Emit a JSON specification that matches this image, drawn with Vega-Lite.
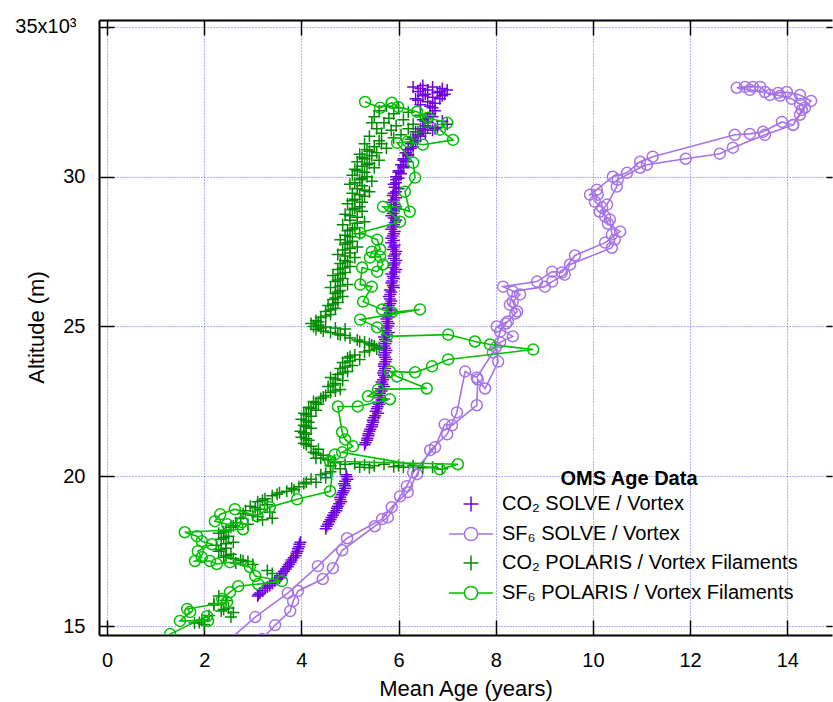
{
  "$schema": "https://vega.github.io/schema/vega-lite/v6.json",
  "width": 733,
  "height": 615,
  "autosize": {"type": "none"},
  "padding": {"left": 99, "top": 20, "right": 1, "bottom": 67},
  "background": "white",
  "config": {
    "view": {"stroke": null},
    "font": "Liberation Sans",
    "axis": {"labelColor": "black", "titleColor": "black", "labelFont": "Liberation Sans", "titleFont": "Liberation Sans"},
    "legend": {
      "orient": "none",
      "legendX": 361,
      "legendY": 449,
      "padding": 0,
      "titleFontSize": 20,
      "titleFontWeight": "bold",
      "titleColor": "black",
      "titleAnchor": "middle",
      "titlePadding": 4,
      "labelFontSize": 20,
      "labelColor": "black",
      "labelOffset": 20,
      "labelLimit": 500,
      "symbolSize": 400,
      "symbolStrokeWidth": 1.5,
      "symbolOpacity": 1,
      "symbolFillColor": "transparent",
      "rowPadding": 8
    }
  },
  "datasets": {
    "sf6solve": [
      {"age":2.49,"alt":14500,"seq":1},{"age":3.05,"alt":15300,"seq":2},{"age":3.72,"alt":16100,"seq":3},{"age":4.34,"alt":17000,"seq":4},{"age":4.94,"alt":17930,"seq":5},{"age":5.66,"alt":18570,"seq":6},{"age":5.86,"alt":18970,"seq":7},{"age":6.19,"alt":19470,"seq":8},{"age":6.38,"alt":20070,"seq":9},{"age":6.65,"alt":20870,"seq":10},{"age":7.0,"alt":21400,"seq":11},{"age":7.2,"alt":22130,"seq":12},{"age":7.37,"alt":23500,"seq":13},{"age":7.61,"alt":23300,"seq":14},{"age":7.94,"alt":24130,"seq":15},{"age":8.09,"alt":24470,"seq":16},{"age":8.35,"alt":24670,"seq":17},{"age":8.02,"alt":25000,"seq":18},{"age":8.25,"alt":25170,"seq":19},{"age":8.44,"alt":25500,"seq":20},{"age":8.35,"alt":25830,"seq":21},{"age":8.5,"alt":26070,"seq":22},{"age":8.15,"alt":26330,"seq":23},{"age":8.85,"alt":26500,"seq":24},{"age":9.16,"alt":26830,"seq":25},{"age":9.36,"alt":26800,"seq":26},{"age":9.63,"alt":27370,"seq":27},{"age":10.25,"alt":27800,"seq":28},{"age":10.56,"alt":28170,"seq":29},{"age":10.31,"alt":28430,"seq":30},{"age":10.25,"alt":28670,"seq":31},{"age":10.19,"alt":28970,"seq":32},{"age":10.04,"alt":29170,"seq":33},{"age":10.1,"alt":29400,"seq":34},{"age":9.94,"alt":29400,"seq":35},{"age":10.08,"alt":29570,"seq":36},{"age":10.41,"alt":30000,"seq":37},{"age":10.7,"alt":30130,"seq":38},{"age":10.97,"alt":30500,"seq":39},{"age":11.23,"alt":30670,"seq":40},{"age":12.92,"alt":31400,"seq":41},{"age":13.23,"alt":31430,"seq":42},{"age":13.5,"alt":31500,"seq":43},{"age":13.89,"alt":31830,"seq":44},{"age":14.12,"alt":31730,"seq":45},{"age":14.3,"alt":32230,"seq":46},{"age":14.49,"alt":32530,"seq":47},{"age":14.26,"alt":32730,"seq":48},{"age":13.99,"alt":32830,"seq":49},{"age":13.81,"alt":32800,"seq":50},{"age":13.64,"alt":32730,"seq":51},{"age":13.44,"alt":33000,"seq":52},{"age":13.29,"alt":33000,"seq":53},{"age":13.13,"alt":33000,"seq":54},{"age":12.96,"alt":32970,"seq":55},{"age":13.23,"alt":32900,"seq":56},{"age":13.54,"alt":32830,"seq":57},{"age":13.85,"alt":32700,"seq":58},{"age":14.09,"alt":32600,"seq":59},{"age":14.26,"alt":32430,"seq":60},{"age":14.36,"alt":32300,"seq":61},{"age":14.26,"alt":32070,"seq":62},{"age":14.12,"alt":31730,"seq":63},{"age":13.54,"alt":31400,"seq":64},{"age":12.88,"alt":30970,"seq":65},{"age":12.61,"alt":30770,"seq":66},{"age":11.91,"alt":30600,"seq":67},{"age":11.11,"alt":30400,"seq":68},{"age":10.97,"alt":30300,"seq":69},{"age":10.51,"alt":29900,"seq":70},{"age":10.49,"alt":29670,"seq":71},{"age":10.29,"alt":29070,"seq":72},{"age":10.14,"alt":28830,"seq":73},{"age":10.35,"alt":28570,"seq":74},{"age":10.39,"alt":28070,"seq":75},{"age":10.45,"alt":27900,"seq":76},{"age":10.39,"alt":27630,"seq":77},{"age":9.53,"alt":27070,"seq":78},{"age":9.42,"alt":26730,"seq":79},{"age":9.16,"alt":26500,"seq":80},{"age":9.01,"alt":26330,"seq":81},{"age":8.35,"alt":26170,"seq":82},{"age":8.29,"alt":25730,"seq":83},{"age":8.4,"alt":25430,"seq":84},{"age":8.21,"alt":25100,"seq":85},{"age":8.09,"alt":24830,"seq":86},{"age":8.0,"alt":24300,"seq":87},{"age":8.05,"alt":23830,"seq":88},{"age":7.78,"alt":22930,"seq":89},{"age":7.63,"alt":23230,"seq":90},{"age":7.61,"alt":22370,"seq":91},{"age":7.1,"alt":21700,"seq":92},{"age":6.95,"alt":21730,"seq":93},{"age":6.75,"alt":20970,"seq":94},{"age":6.3,"alt":20130,"seq":95},{"age":6.17,"alt":19670,"seq":96},{"age":6.03,"alt":19330,"seq":97},{"age":5.78,"alt":18630,"seq":98},{"age":5.51,"alt":18330,"seq":99},{"age":4.84,"alt":17530,"seq":100},{"age":4.65,"alt":16930,"seq":101},{"age":4.44,"alt":16570,"seq":102},{"age":3.93,"alt":16170,"seq":103},{"age":3.83,"alt":15830,"seq":104},{"age":3.77,"alt":15500,"seq":105},{"age":3.46,"alt":15030,"seq":106},{"age":3.19,"alt":14570,"seq":107}
    ],
    "sf6polaris": [
      {"age":5.31,"alt":32500,"seq":1},{"age":5.62,"alt":32300,"seq":2},{"age":5.86,"alt":32470,"seq":3},{"age":5.99,"alt":32330,"seq":4},{"age":6.38,"alt":32170,"seq":5},{"age":6.6,"alt":31970,"seq":6},{"age":7.0,"alt":31800,"seq":7},{"age":6.85,"alt":31570,"seq":8},{"age":7.12,"alt":31230,"seq":9},{"age":6.5,"alt":31070,"seq":10},{"age":6.19,"alt":31170,"seq":11},{"age":5.97,"alt":31130,"seq":12},{"age":6.3,"alt":30470,"seq":13},{"age":6.34,"alt":29970,"seq":14},{"age":6.13,"alt":29500,"seq":15},{"age":6.23,"alt":28830,"seq":16},{"age":5.93,"alt":29000,"seq":17},{"age":5.68,"alt":29000,"seq":18},{"age":6.03,"alt":28500,"seq":19},{"age":5.21,"alt":28130,"seq":20},{"age":5.56,"alt":27900,"seq":21},{"age":5.62,"alt":27570,"seq":22},{"age":5.45,"alt":27500,"seq":23},{"age":5.41,"alt":27300,"seq":24},{"age":5.62,"alt":27330,"seq":25},{"age":5.68,"alt":27070,"seq":26},{"age":5.56,"alt":26830,"seq":27},{"age":5.25,"alt":26970,"seq":28},{"age":5.21,"alt":26400,"seq":29},{"age":5.45,"alt":26330,"seq":30},{"age":5.27,"alt":25830,"seq":31},{"age":5.66,"alt":25570,"seq":32},{"age":5.86,"alt":25470,"seq":33},{"age":6.44,"alt":25570,"seq":34},{"age":5.21,"alt":25230,"seq":35},{"age":5.56,"alt":24970,"seq":36},{"age":5.76,"alt":24670,"seq":37},{"age":7.02,"alt":24730,"seq":38},{"age":7.57,"alt":24500,"seq":39},{"age":7.88,"alt":24400,"seq":40},{"age":8.77,"alt":24230,"seq":41},{"age":7.02,"alt":23900,"seq":42},{"age":6.69,"alt":23670,"seq":43},{"age":6.34,"alt":23470,"seq":44},{"age":5.82,"alt":23500,"seq":45},{"age":5.97,"alt":23330,"seq":46},{"age":6.58,"alt":22930,"seq":47},{"age":5.58,"alt":22900,"seq":48},{"age":5.37,"alt":22670,"seq":49},{"age":5.82,"alt":22570,"seq":50},{"age":5.16,"alt":22330,"seq":51},{"age":4.75,"alt":22330,"seq":52},{"age":4.84,"alt":21470,"seq":53},{"age":4.9,"alt":21230,"seq":54},{"age":5.06,"alt":21000,"seq":55},{"age":4.84,"alt":20800,"seq":56},{"age":6.85,"alt":20230,"seq":57},{"age":7.22,"alt":20400,"seq":58},{"age":4.59,"alt":20500,"seq":59},{"age":4.69,"alt":20730,"seq":60},{"age":4.59,"alt":19500,"seq":61},{"age":3.91,"alt":19230,"seq":62},{"age":3.35,"alt":18970,"seq":63},{"age":3.09,"alt":18670,"seq":64},{"age":2.63,"alt":18900,"seq":65},{"age":2.33,"alt":18730,"seq":66},{"age":2.22,"alt":18500,"seq":67},{"age":2.47,"alt":18400,"seq":68},{"age":2.78,"alt":18470,"seq":69},{"age":2.8,"alt":18230,"seq":70},{"age":1.6,"alt":18130,"seq":71},{"age":1.85,"alt":18000,"seq":72},{"age":1.95,"alt":17830,"seq":73},{"age":2.16,"alt":17730,"seq":74},{"age":1.87,"alt":17500,"seq":75},{"age":1.95,"alt":17300,"seq":76},{"age":1.81,"alt":17170,"seq":77},{"age":2.12,"alt":17170,"seq":78},{"age":2.26,"alt":17070,"seq":79},{"age":2.53,"alt":17130,"seq":80},{"age":2.94,"alt":16970,"seq":81},{"age":3.05,"alt":16670,"seq":82},{"age":3.6,"alt":16500,"seq":83},{"age":3.11,"alt":16400,"seq":84},{"age":2.7,"alt":16330,"seq":85},{"age":2.53,"alt":16130,"seq":86},{"age":2.37,"alt":15900,"seq":87},{"age":2.47,"alt":15800,"seq":88},{"age":1.65,"alt":15570,"seq":89},{"age":1.71,"alt":15470,"seq":90},{"age":1.5,"alt":15170,"seq":91},{"age":2.08,"alt":15170,"seq":92},{"age":2.06,"alt":15330,"seq":93},{"age":1.3,"alt":14730,"seq":94},{"age":1.13,"alt":14400,"seq":95}
    ],
    "co2solve": [
      {"age":6.3,"alt":33000},{"age":6.5,"alt":33050},{"age":6.7,"alt":33000},{"age":6.9,"alt":32950},{"age":7.0,"alt":32900},{"age":6.4,"alt":32850},{"age":6.6,"alt":32900},{"age":6.8,"alt":32800},{"age":6.95,"alt":32750},{"age":6.5,"alt":32700},{"age":6.7,"alt":32650},{"age":6.35,"alt":32600},{"age":6.85,"alt":32600},{"age":6.6,"alt":32500},{"age":6.75,"alt":32450},{"age":6.45,"alt":32400},{"age":6.7,"alt":32300},{"age":6.75,"alt":32200},{"age":6.65,"alt":32100},{"age":6.7,"alt":32000},{"age":6.5,"alt":31900},{"age":6.9,"alt":31850},{"age":6.6,"alt":31800},{"age":7.0,"alt":31750},{"age":6.55,"alt":31700},{"age":6.8,"alt":31650},{"age":6.45,"alt":31600},{"age":6.7,"alt":31550},{"age":6.35,"alt":31500},{"age":6.55,"alt":31450},{"age":6.4,"alt":31400},{"age":6.3,"alt":31300},{"age":6.35,"alt":31200},{"age":6.25,"alt":31100},{"age":6.3,"alt":31000},{"age":6.2,"alt":30900},{"age":6.15,"alt":30800},{"age":6.2,"alt":30700},{"age":6.1,"alt":30600},{"age":6.15,"alt":30500},{"age":6.05,"alt":30400},{"age":6.1,"alt":30300},{"age":6.0,"alt":30200},{"age":6.05,"alt":30100},{"age":5.95,"alt":30000},{"age":5.95,"alt":29900},{"age":5.9,"alt":29750},{"age":6.0,"alt":29600},{"age":5.9,"alt":29450},{"age":5.95,"alt":29300},{"age":5.85,"alt":29150},{"age":5.95,"alt":29000},{"age":5.9,"alt":28850},{"age":5.85,"alt":28700},{"age":5.95,"alt":28550},{"age":5.9,"alt":28400},{"age":5.85,"alt":28250},{"age":5.9,"alt":28100},{"age":5.85,"alt":27950},{"age":5.85,"alt":27800},{"age":5.9,"alt":27650},{"age":5.95,"alt":27500},{"age":5.9,"alt":27350},{"age":5.95,"alt":27200},{"age":5.9,"alt":27050},{"age":5.95,"alt":26900},{"age":5.85,"alt":26750},{"age":5.9,"alt":26600},{"age":5.85,"alt":26450},{"age":5.9,"alt":26300},{"age":5.85,"alt":26150},{"age":5.8,"alt":26000},{"age":5.85,"alt":25850},{"age":5.8,"alt":25700},{"age":5.85,"alt":25550},{"age":5.8,"alt":25400},{"age":5.75,"alt":25250},{"age":5.8,"alt":25100},{"age":5.75,"alt":24950},{"age":5.8,"alt":24800},{"age":5.7,"alt":24650},{"age":5.75,"alt":24500},{"age":5.7,"alt":24350},{"age":5.75,"alt":24200},{"age":5.7,"alt":24050},{"age":5.75,"alt":23900},{"age":5.7,"alt":23750},{"age":5.72,"alt":23600},{"age":5.68,"alt":23450},{"age":5.72,"alt":23300},{"age":5.65,"alt":23150},{"age":5.7,"alt":23000},{"age":5.65,"alt":22850},{"age":5.6,"alt":22700},{"age":5.65,"alt":22550},{"age":5.6,"alt":22400},{"age":5.55,"alt":22250},{"age":5.58,"alt":22100},{"age":5.5,"alt":21950},{"age":5.48,"alt":21800},{"age":5.45,"alt":21650},{"age":5.4,"alt":21500},{"age":5.38,"alt":21350},{"age":5.35,"alt":21200},{"age":5.3,"alt":21050},{"age":4.92,"alt":20050},{"age":4.95,"alt":19900},{"age":4.88,"alt":19750},{"age":4.9,"alt":19600},{"age":4.85,"alt":19450},{"age":4.8,"alt":19300},{"age":4.82,"alt":19150},{"age":4.75,"alt":19000},{"age":4.72,"alt":18850},{"age":4.65,"alt":18700},{"age":4.6,"alt":18550},{"age":4.55,"alt":18400},{"age":4.5,"alt":18250},{"age":3.98,"alt":17800},{"age":3.95,"alt":17650},{"age":3.92,"alt":17500},{"age":3.88,"alt":17350},{"age":3.8,"alt":17200},{"age":3.75,"alt":17050},{"age":3.68,"alt":16900},{"age":3.6,"alt":16750},{"age":3.55,"alt":16600},{"age":3.45,"alt":16500},{"age":3.35,"alt":16350},{"age":3.25,"alt":16250},{"age":3.15,"alt":16100},{"age":3.1,"alt":16000},
      {"age":6.45,"alt":32950},{"age":6.85,"alt":32850},{"age":6.55,"alt":32750},{"age":6.9,"alt":32700},{"age":6.4,"alt":32550},{"age":6.65,"alt":32350},{"age":6.6,"alt":31950},{"age":6.75,"alt":31600},{"age":6.5,"alt":31550},{"age":6.45,"alt":31350},{"age":6.3,"alt":31150},{"age":6.25,"alt":30950},{"age":6.2,"alt":30750},{"age":6.1,"alt":30550},{"age":6.1,"alt":30350},{"age":6.0,"alt":30150},{"age":6.0,"alt":29950},{"age":5.95,"alt":29800},{"age":5.92,"alt":29650},{"age":5.95,"alt":29500},{"age":5.88,"alt":29370},{"age":5.9,"alt":29220},{"age":5.92,"alt":29070},{"age":5.95,"alt":28920},{"age":5.88,"alt":28770},{"age":5.9,"alt":28620},{"age":5.92,"alt":28470},{"age":5.88,"alt":28320},{"age":5.92,"alt":28170},{"age":5.88,"alt":28020},{"age":5.9,"alt":27870},{"age":5.92,"alt":27720},{"age":5.88,"alt":27570},{"age":5.93,"alt":27420},{"age":5.9,"alt":27270},{"age":5.92,"alt":27120},{"age":5.88,"alt":26970},{"age":5.92,"alt":26820},{"age":5.88,"alt":26670},{"age":5.87,"alt":26520},{"age":5.88,"alt":26370},{"age":5.82,"alt":26220},{"age":5.83,"alt":26070},{"age":5.82,"alt":25920},{"age":5.83,"alt":25770},{"age":5.78,"alt":25620},{"age":5.82,"alt":25470},{"age":5.78,"alt":25320},{"age":5.77,"alt":25170},{"age":5.78,"alt":25020},{"age":5.74,"alt":24870},{"age":5.76,"alt":24720},{"age":5.72,"alt":24570},{"age":5.73,"alt":24420},{"age":5.72,"alt":24270},{"age":5.73,"alt":24120},{"age":5.72,"alt":23970},{"age":5.73,"alt":23820},{"age":5.7,"alt":23670},{"age":5.7,"alt":23520},{"age":5.7,"alt":23370},{"age":5.68,"alt":23220},{"age":5.67,"alt":23070},{"age":5.63,"alt":22920},{"age":5.62,"alt":22770},{"age":5.62,"alt":22620},{"age":5.58,"alt":22470},{"age":5.57,"alt":22320},{"age":5.53,"alt":22170},{"age":5.52,"alt":22020},{"age":5.47,"alt":21870},{"age":5.46,"alt":21720},{"age":5.42,"alt":21570},{"age":5.38,"alt":21420},{"age":5.36,"alt":21270},{"age":5.32,"alt":21120},{"age":4.93,"alt":19980},{"age":4.9,"alt":19830},{"age":4.9,"alt":19680},{"age":4.87,"alt":19520},{"age":4.83,"alt":19380},{"age":4.8,"alt":19220},{"age":4.78,"alt":19080},{"age":4.73,"alt":18930},{"age":4.68,"alt":18780},{"age":4.62,"alt":18620},{"age":4.57,"alt":18480},{"age":4.52,"alt":18330},{"age":3.96,"alt":17730},{"age":3.93,"alt":17580},{"age":3.9,"alt":17430},{"age":3.84,"alt":17280},{"age":3.78,"alt":17130},{"age":3.72,"alt":16980},{"age":3.64,"alt":16830},{"age":3.58,"alt":16680},{"age":3.5,"alt":16550},{"age":3.4,"alt":16420},{"age":3.3,"alt":16300},{"age":3.2,"alt":16180},{"age":3.12,"alt":16050}
    ],
    "co2polaris": [
      {"age":5.75,"alt":32350},{"age":6.0,"alt":32300},{"age":5.6,"alt":32200},{"age":6.2,"alt":32150},{"age":5.9,"alt":32100},{"age":6.45,"alt":32050},{"age":5.5,"alt":32000},{"age":5.8,"alt":31950},{"age":6.1,"alt":31900},{"age":6.55,"alt":31850},{"age":5.45,"alt":31800},{"age":5.7,"alt":31800},{"age":6.3,"alt":31750},{"age":5.95,"alt":31700},{"age":6.6,"alt":31650},{"age":5.55,"alt":31600},{"age":6.2,"alt":31600},{"age":5.85,"alt":31550},{"age":6.4,"alt":31500},{"age":5.65,"alt":31450},{"age":6.05,"alt":31400},{"age":5.4,"alt":31350},{"age":5.9,"alt":31300},{"age":6.25,"alt":31250},{"age":5.6,"alt":31200},{"age":5.3,"alt":31100},{"age":5.5,"alt":31000},{"age":5.75,"alt":30950},{"age":5.35,"alt":30900},{"age":5.55,"alt":30800},{"age":5.2,"alt":30750},{"age":5.45,"alt":30700},{"age":5.3,"alt":30600},{"age":5.6,"alt":30550},{"age":5.15,"alt":30500},{"age":5.4,"alt":30450},{"age":5.25,"alt":30350},{"age":5.5,"alt":30300},{"age":5.1,"alt":30250},{"age":5.3,"alt":30150},{"age":5.05,"alt":30050},{"age":5.35,"alt":30000},{"age":5.2,"alt":29900},{"age":5.45,"alt":29850},{"age":5.0,"alt":29750},{"age":5.25,"alt":29700},{"age":5.15,"alt":29600},{"age":5.4,"alt":29500},{"age":5.05,"alt":29450},{"age":5.3,"alt":29350},{"age":5.1,"alt":29250},{"age":5.25,"alt":29150},{"age":4.95,"alt":29100},{"age":5.2,"alt":29000},{"age":5.05,"alt":28900},{"age":5.25,"alt":28850},{"age":4.9,"alt":28750},{"age":5.15,"alt":28650},{"age":5.0,"alt":28550},{"age":5.3,"alt":28500},{"age":4.85,"alt":28400},{"age":5.1,"alt":28300},{"age":4.95,"alt":28200},{"age":5.2,"alt":28100},{"age":5.0,"alt":28000},{"age":4.8,"alt":27900},{"age":5.05,"alt":27850},{"age":4.9,"alt":27750},{"age":5.15,"alt":27650},{"age":4.85,"alt":27550},{"age":5.0,"alt":27450},{"age":4.75,"alt":27400},{"age":5.1,"alt":27300},{"age":4.9,"alt":27200},{"age":4.8,"alt":27100},{"age":5.0,"alt":27000},{"age":4.75,"alt":26900},{"age":4.9,"alt":26800},{"age":4.65,"alt":26700},{"age":4.85,"alt":26600},{"age":4.7,"alt":26500},{"age":4.95,"alt":26400},{"age":4.6,"alt":26300},{"age":4.8,"alt":26200},{"age":4.7,"alt":26100},{"age":4.85,"alt":26000},{"age":4.65,"alt":25900},{"age":4.75,"alt":25800},{"age":4.55,"alt":25700},{"age":4.7,"alt":25600},{"age":4.5,"alt":25500},{"age":4.6,"alt":25400},{"age":4.4,"alt":25300},{"age":4.3,"alt":25200},{"age":4.2,"alt":25100},{"age":4.35,"alt":25050},{"age":4.25,"alt":25000},{"age":4.5,"alt":24980},{"age":4.7,"alt":24950},{"age":4.9,"alt":24920},{"age":4.3,"alt":24900},{"age":4.45,"alt":24850},{"age":4.6,"alt":24800},{"age":4.75,"alt":24750},{"age":4.9,"alt":24700},{"age":5.0,"alt":24620},{"age":5.15,"alt":24550},{"age":5.3,"alt":24480},{"age":5.4,"alt":24420},{"age":5.5,"alt":24350},{"age":5.6,"alt":24300},{"age":5.55,"alt":24250},{"age":5.3,"alt":24150},{"age":5.1,"alt":24050},{"age":4.95,"alt":23950},{"age":5.2,"alt":23900},{"age":4.85,"alt":23800},{"age":5.05,"alt":23700},{"age":4.8,"alt":23600},{"age":4.95,"alt":23500},{"age":4.75,"alt":23400},{"age":4.6,"alt":23300},{"age":4.85,"alt":23200},{"age":4.7,"alt":23100},{"age":4.55,"alt":23000},{"age":4.8,"alt":22900},{"age":4.6,"alt":22800},{"age":4.5,"alt":22700},{"age":4.4,"alt":22600},{"age":4.25,"alt":22500},{"age":4.35,"alt":22400},{"age":4.15,"alt":22300},{"age":4.3,"alt":22200},{"age":4.05,"alt":22100},{"age":4.2,"alt":22000},{"age":4.0,"alt":21900},{"age":4.15,"alt":21800},{"age":4.05,"alt":21700},{"age":4.2,"alt":21600},{"age":3.98,"alt":21500},{"age":4.1,"alt":21400},{"age":4.0,"alt":21300},{"age":4.15,"alt":21200},{"age":4.05,"alt":21100},{"age":4.2,"alt":21000},{"age":4.35,"alt":20900},{"age":4.25,"alt":20800},{"age":4.45,"alt":20700},{"age":4.3,"alt":20600},{"age":4.55,"alt":20550},{"age":4.7,"alt":20450},{"age":4.9,"alt":20400},{"age":5.1,"alt":20420},{"age":5.3,"alt":20380},{"age":5.5,"alt":20350},{"age":5.7,"alt":20400},{"age":5.9,"alt":20320},{"age":6.1,"alt":20300},{"age":6.3,"alt":20350},{"age":6.5,"alt":20280},{"age":6.7,"alt":20300},{"age":6.9,"alt":20250},{"age":5.2,"alt":20300},{"age":4.8,"alt":20250},{"age":4.6,"alt":20150},{"age":4.4,"alt":20050},{"age":4.5,"alt":19950},{"age":4.2,"alt":19900},{"age":4.3,"alt":19800},{"age":4.05,"alt":19750},{"age":3.95,"alt":19650},{"age":3.8,"alt":19600},{"age":3.7,"alt":19500},{"age":3.55,"alt":19450},{"age":3.4,"alt":19350},{"age":3.25,"alt":19250},{"age":3.1,"alt":19150},{"age":3.3,"alt":19050},{"age":2.95,"alt":19000},{"age":3.15,"alt":18900},{"age":2.85,"alt":18850},{"age":3.35,"alt":18800},{"age":3.0,"alt":18700},{"age":2.75,"alt":18600},{"age":3.2,"alt":18550},{"age":3.4,"alt":18600},{"age":2.65,"alt":18450},{"age":2.9,"alt":18400},{"age":2.55,"alt":18300},{"age":2.45,"alt":18200},{"age":2.3,"alt":18100},{"age":2.5,"alt":18000},{"age":2.35,"alt":17900},{"age":2.6,"alt":17800},{"age":2.25,"alt":17700},{"age":2.45,"alt":17600},{"age":2.3,"alt":17500},{"age":2.55,"alt":17400},{"age":2.4,"alt":17300},{"age":2.6,"alt":17250},{"age":2.75,"alt":17200},{"age":2.9,"alt":17150},{"age":2.65,"alt":17100},{"age":3.0,"alt":17050},{"age":3.3,"alt":16850},{"age":3.4,"alt":16750},{"age":2.3,"alt":16000},{"age":2.45,"alt":15850},{"age":2.2,"alt":15750},{"age":2.5,"alt":15600},{"age":2.35,"alt":15500},{"age":2.6,"alt":15450},{"age":2.1,"alt":15350},{"age":1.95,"alt":15200},{"age":1.8,"alt":15100},{"age":2.0,"alt":15050},{"age":2.55,"alt":15300},
      {"age":5.65,"alt":31100},{"age":5.4,"alt":30850},{"age":5.25,"alt":30650},{"age":5.35,"alt":30400},{"age":5.15,"alt":30200},{"age":5.25,"alt":29950},{"age":5.1,"alt":29800},{"age":5.3,"alt":29550},{"age":5.2,"alt":29400},{"age":5.05,"alt":29200},{"age":5.1,"alt":28950},{"age":5.0,"alt":28700},{"age":5.15,"alt":28450},{"age":5.05,"alt":28250},{"age":4.9,"alt":28050},{"age":4.95,"alt":27800},{"age":5.0,"alt":27600},{"age":4.9,"alt":27350},{"age":4.95,"alt":27150},{"age":4.85,"alt":26950},{"age":4.8,"alt":26750},{"age":4.75,"alt":26550},{"age":4.8,"alt":26350},{"age":4.75,"alt":26150},{"age":4.7,"alt":25950},{"age":4.65,"alt":25750},{"age":4.6,"alt":25550},{"age":4.5,"alt":25350},{"age":4.35,"alt":25150},{"age":4.4,"alt":24950},{"age":4.8,"alt":24720},{"age":5.2,"alt":24500},{"age":5.45,"alt":24380},{"age":5.4,"alt":24200},{"age":5.0,"alt":24000},{"age":5.0,"alt":23850},{"age":4.9,"alt":23650},{"age":4.85,"alt":23450},{"age":4.7,"alt":23250},{"age":4.65,"alt":23050},{"age":4.7,"alt":22850},{"age":4.45,"alt":22650},{"age":4.3,"alt":22450},{"age":4.2,"alt":22250},{"age":4.1,"alt":22050},{"age":4.1,"alt":21850},{"age":4.1,"alt":21650},{"age":4.05,"alt":21450},{"age":4.1,"alt":21250},{"age":4.1,"alt":21050},{"age":4.3,"alt":20750},{"age":4.4,"alt":20600},{"age":4.6,"alt":20350},{"age":6.0,"alt":20360},{"age":5.4,"alt":20280},{"age":4.5,"alt":20100},{"age":4.1,"alt":19800},{"age":3.85,"alt":19550},{"age":3.5,"alt":19400},{"age":3.2,"alt":19200},{"age":3.05,"alt":18950},{"age":2.8,"alt":18750},{"age":3.1,"alt":18650},{"age":2.6,"alt":18350},{"age":2.4,"alt":18150},{"age":2.4,"alt":17950},{"age":2.45,"alt":17750},{"age":2.35,"alt":17550},{"age":2.45,"alt":17350},{"age":2.8,"alt":17180},{"age":2.2,"alt":15700},{"age":2.4,"alt":15550},{"age":1.9,"alt":15120}
    ]
  },
  "layer": [
    {
      "data": {"name": "sf6solve"},
      "mark": {"type": "line", "strokeWidth": 1.6, "clip": true},
      "encoding": {
        "x": {"field": "age", "type": "quantitative",
          "scale": {"domain": [-0.165, 14.92], "nice": false, "zero": false},
          "axis": {"orient": "bottom", "values": [0,2,4,6,8,10,12,14], "format": "d", "grid": true, "gridColor": "#5c5cff", "gridDash": [1,2], "gridWidth": 1,
            "domainColor": "black", "domainWidth": 2, "tickColor": "black", "tickWidth": 1.5, "tickSize": -15,
            "labelFontSize": 20, "labelPadding": 30, "labelFlush": false,
            "title": "Mean Age (years)", "titleFontSize": 22, "titleFontWeight": "normal", "titlePadding": 8}},
        "y": {"field": "alt", "type": "quantitative",
          "scale": {"domain": [14700, 35233], "nice": false, "zero": false},
          "axis": {"orient": "left", "values": [15000,20000,25000,30000,35000], "labelExpr": "datum.value == 35000 ? '35x10³' : format(datum.value/1000, 'd')",
            "grid": true, "gridColor": "#5c5cff", "gridDash": [1,2], "gridWidth": 1,
            "domainColor": "black", "domainWidth": 2, "tickColor": "black", "tickWidth": 1.5, "tickSize": -15,
            "labelFontSize": 20, "labelPadding": {"condition": {"test": "datum.value == 35000", "value": 38}, "value": 29}, "labelFlush": false,
            "title": "Altitude (m)", "titleFontSize": 22, "titleFontWeight": "normal", "titleAngle": -90, "titleX": -63, "titleY": 307, "titleAlign": "center", "titleBaseline": "middle"}},
        "order": {"field": "seq", "type": "quantitative"},
        "color": {"datum": "SF₆ SOLVE / Vortex"}
      }
    },
    {
      "data": {"name": "sf6solve"},
      "mark": {"type": "point", "shape": "circle", "filled": false, "size": 120, "strokeWidth": 1.5, "opacity": 1, "clip": true},
      "encoding": {
        "x": {"field": "age", "type": "quantitative",
          "axis": {"orient": "top", "values": [0,2,4,6,8,10,12,14], "labels": false, "grid": false, "title": null,
            "domainColor": "black", "domainWidth": 2, "tickColor": "black", "tickWidth": 1.5, "tickSize": -15}},
        "y": {"field": "alt", "type": "quantitative",
          "axis": {"orient": "right", "values": [15000,20000,25000,30000,35000], "labels": false, "grid": false, "title": null,
            "domain": false, "tickColor": "black", "tickWidth": 1.5, "tickSize": -6}},
        "color": {"datum": "SF₆ SOLVE / Vortex"}
      }
    },
    {
      "data": {"name": "co2solve"},
      "mark": {"type": "point", "filled": false, "size": 256, "strokeWidth": 1.5, "opacity": 1, "clip": true},
      "encoding": {
        "x": {"field": "age", "type": "quantitative", "axis": null},
        "y": {"field": "alt", "type": "quantitative", "axis": null},
        "color": {"datum": "CO₂ SOLVE / Vortex",
          "scale": {"domain": ["CO₂ SOLVE / Vortex", "SF₆ SOLVE / Vortex", "CO₂ POLARIS / Vortex Filaments", "SF₆ POLARIS / Vortex Filaments"],
            "range": ["#7000e0", "#a673e6", "#008c00", "#00c000"]},
          "legend": {"title": "OMS Age Data"}},
        "shape": {"datum": "CO₂ SOLVE / Vortex",
          "scale": {"domain": ["CO₂ SOLVE / Vortex", "SF₆ SOLVE / Vortex", "CO₂ POLARIS / Vortex Filaments", "SF₆ POLARIS / Vortex Filaments"],
            "range": ["M-0.75,0L0.75,0M0,-0.75L0,0.75", "M-2.2,0L-0.66,0M0.66,0L2.2,0M0.66,0A0.66,0.66,0,1,1,-0.66,0A0.66,0.66,0,1,1,0.66,0", "M-0.75,0L0.75,0M0,-0.75L0,0.75", "M-2.2,0L-0.66,0M0.66,0L2.2,0M0.66,0A0.66,0.66,0,1,1,-0.66,0A0.66,0.66,0,1,1,0.66,0"]},
          "legend": {"title": "OMS Age Data"}}
      }
    },
    {
      "data": {"name": "co2polaris"},
      "mark": {"type": "point", "filled": false, "size": 256, "strokeWidth": 1.5, "opacity": 1, "clip": true},
      "encoding": {
        "x": {"field": "age", "type": "quantitative", "axis": null},
        "y": {"field": "alt", "type": "quantitative", "axis": null},
        "color": {"datum": "CO₂ POLARIS / Vortex Filaments"},
        "shape": {"datum": "CO₂ POLARIS / Vortex Filaments"}
      }
    },
    {
      "data": {"name": "sf6polaris"},
      "mark": {"type": "line", "strokeWidth": 1.6, "clip": true},
      "encoding": {
        "x": {"field": "age", "type": "quantitative", "axis": null},
        "y": {"field": "alt", "type": "quantitative", "axis": null},
        "order": {"field": "seq", "type": "quantitative"},
        "color": {"datum": "SF₆ POLARIS / Vortex Filaments"}
      }
    },
    {
      "data": {"name": "sf6polaris"},
      "mark": {"type": "point", "shape": "circle", "filled": false, "size": 120, "strokeWidth": 1.5, "opacity": 1, "clip": true},
      "encoding": {
        "x": {"field": "age", "type": "quantitative", "axis": null},
        "y": {"field": "alt", "type": "quantitative", "axis": null},
        "color": {"datum": "SF₆ POLARIS / Vortex Filaments"}
      }
    }
  ],
  "resolve": {"axis": {"x": "independent", "y": "independent"}}
}
